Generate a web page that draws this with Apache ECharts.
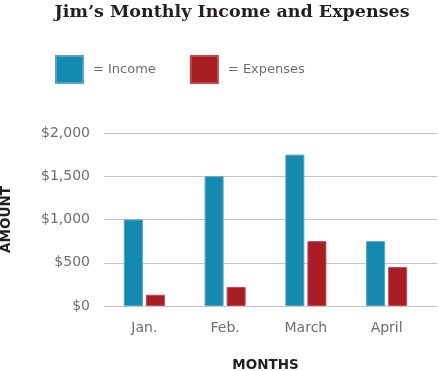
<!DOCTYPE html>
<html>
<head>
<meta charset="utf-8">
<script src="https://cdn.jsdelivr.net/npm/echarts@6/dist/echarts.min.js"></script>
<style>
html,body{margin:0;padding:0;background:#fff;}
#chart{width:438px;height:371px;}
</style>
</head>
<body>
<div id="chart"></div>
<script>
const categories = ['Jan.', 'Feb.', 'March', 'April'];
const income = [1000, 1500, 1750, 750];
const expenses = [130, 220, 750, 450];
const yTicks = [0, 500, 1000, 1500, 2000];

const chart = echarts.init(document.getElementById('chart'));
const axisFont = 'DejaVu Sans';
chart.setOption({
  animation: false,
  backgroundColor: '#ffffff',
  title: {
    text: 'Jim’s Monthly Income and Expenses',
    left: 232, top: 3, textAlign: 'center', padding: 0,
    textStyle: {fontFamily: 'DejaVu Serif', fontWeight: 'bold', fontSize: 17.5, color: '#231f20'}
  },
  legend: {
    left: 55, top: 55, padding: 0,
    itemWidth: 27, itemHeight: 27, itemGap: 34,
    icon: 'rect',
    formatter: '= {name}',
    textStyle: {fontFamily: axisFont, fontSize: 13, color: '#6d6e71', padding: [0,0,0,5]},
    data: ['Income', 'Expenses']
  },
  grid: [
    {left: 104, width: 323, top: 133, bottom: 65, containLabel: false, outerBoundsMode: 'none'},
    {left: 104, right: 1, top: 133, bottom: 65, containLabel: false, outerBoundsMode: 'none'}
  ],
  xAxis: [
    {
      type: 'category', gridIndex: 0, data: categories,
      axisLine: {show: false}, axisTick: {show: false},
      axisLabel: {fontFamily: axisFont, fontSize: 14, color: '#6d6e71', margin: 15},
      name: 'MONTHS', nameLocation: 'middle', nameGap: 52,
      nameTextStyle: {fontFamily: axisFont, fontWeight: 'bold', fontSize: 13.5, color: '#231f20'}
    },
    {
      type: 'value', gridIndex: 1, show: false
    }
  ],
  yAxis: [
    {
      type: 'value', gridIndex: 0, min: 0, max: 2000, interval: 500,
      axisLine: {show: false}, axisTick: {show: false}, splitLine: {show: false},
      axisLabel: {
        fontFamily: axisFont, fontSize: 14, color: '#6d6e71', margin: 14,
        formatter: v => '$' + v.toLocaleString('en-US')
      },
      name: 'AMOUNT', nameLocation: 'middle', nameGap: 91, nameRotate: 90,
      nameTextStyle: {fontFamily: axisFont, fontWeight: 'bold', fontSize: 13.5, color: '#231f20'}
    },
    {
      type: 'value', gridIndex: 1, min: 0, max: 2000, interval: 500,
      axisLine: {show: false}, axisTick: {show: false}, axisLabel: {show: false},
      splitLine: {show: true, lineStyle: {color: '#c4c4c4', width: 1}}
    }
  ],
  series: [
    {
      name: 'Income', type: 'bar', xAxisIndex: 0, yAxisIndex: 0,
      data: income, barWidth: 19, barGap: '16%',
      itemStyle: {color: '#158ab1', borderColor: '#4fa6c4', borderWidth: 1}
    },
    {
      name: 'Expenses', type: 'bar', xAxisIndex: 0, yAxisIndex: 0,
      data: expenses, barWidth: 19, barGap: '16%',
      itemStyle: {color: '#a91d25', borderColor: '#c2474e', borderWidth: 1}
    }
  ]
});
</script>
</body>
</html>
